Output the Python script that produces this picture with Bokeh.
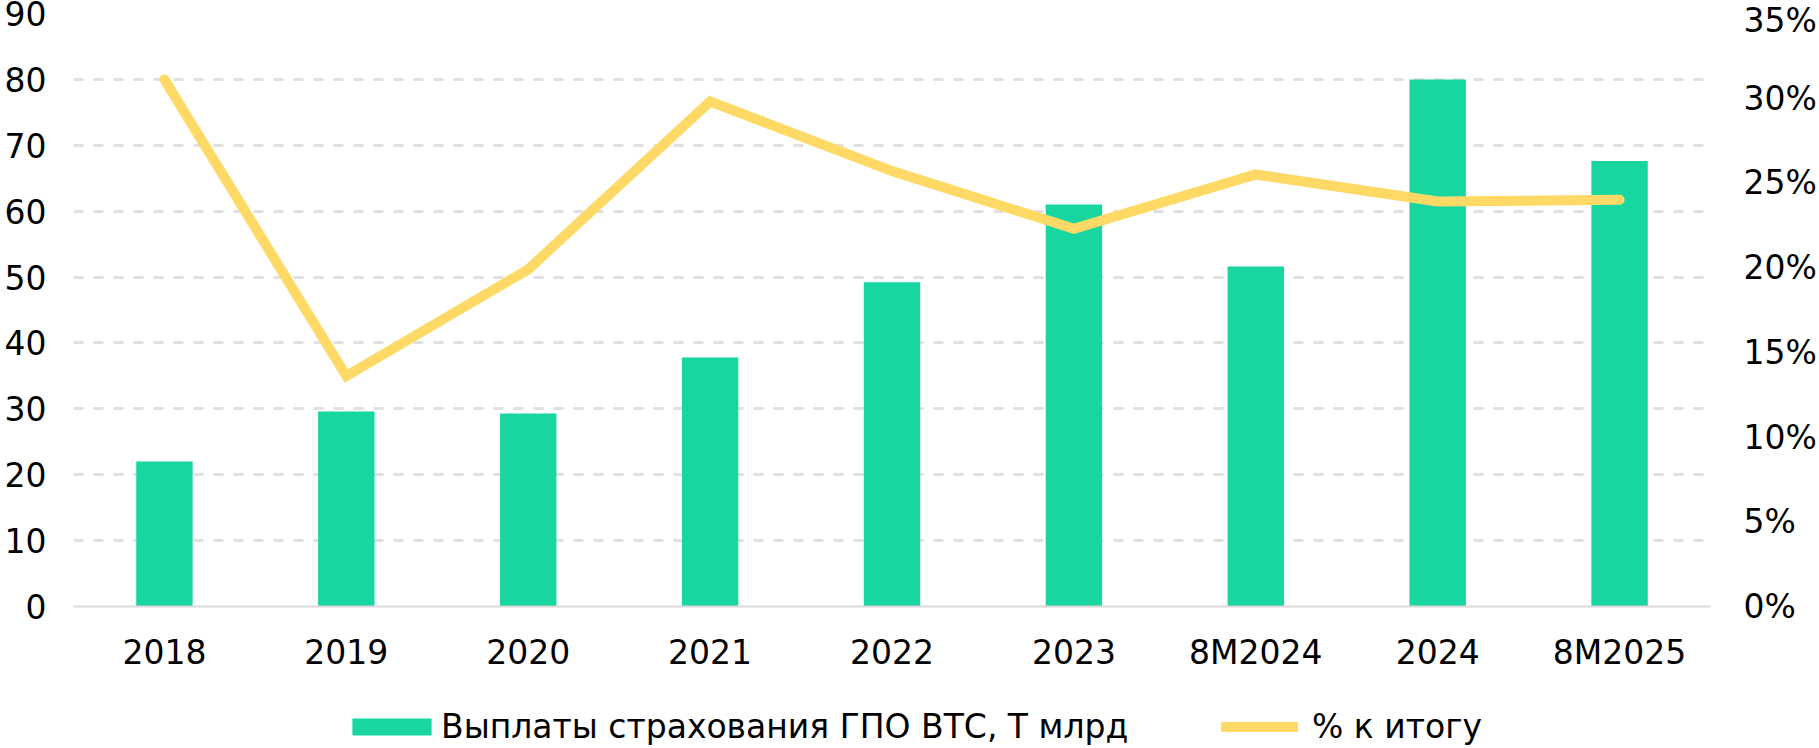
from bokeh.plotting import figure
from bokeh.layouts import column
from bokeh.models import (FactorRange, Range1d, LinearAxis, FixedTicker,
                          Legend, LegendItem, ColumnDataSource)
from bokeh.embed import file_html
from bokeh.resources import INLINE

# ---- data ----
categories = ["2018", "2019", "2020", "2021", "2022", "2023", "8M2024", "2024", "8M2025"]
payouts = [22.0, 29.6, 29.3, 37.8, 49.2, 61.0, 51.6, 80.0, 67.6]
share_pct = [31.1, 13.6, 19.9, 29.8, 25.7, 22.3, 25.5, 23.9, 24.0]
left_ticks = [0, 10, 20, 30, 40, 50, 60, 70, 80, 90]
right_ticks = [0, 5, 10, 15, 20, 25, 30, 35]
bar_label = "Выплаты страхования ГПО ВТС, Т млрд"
line_label = "% к итогу"

BAR_COLOR = "#17D6A0"
LINE_COLOR = "#FFD966"
GRID_COLOR = "#E0E0E0"
FONT = "DejaVu Sans"
FS = "33px"

W = 1819
H_MAIN = 690
H_LEG = 58

src = ColumnDataSource(dict(cat=categories, pay=payouts, pct=share_pct))

p = figure(x_range=FactorRange(factors=categories), y_range=Range1d(0, 90),
           width=W, height=H_MAIN, output_backend="svg", toolbar_location=None,
           min_border_left=73, min_border_right=109, min_border_top=13,
           min_border_bottom=84)
p.extra_y_ranges = {"pct": Range1d(0, 35)}
p.outline_line_color = None
p.background_fill_color = "white"
p.border_fill_color = "white"

bar_style = dict(fill_color=BAR_COLOR, line_color=None)
line_style = dict(line_color=LINE_COLOR, line_width=10, line_cap="round", line_join="miter")

p.vbar(x="cat", top="pay", width=0.31, source=src, **bar_style)
p.line(x="cat", y="pct", source=src, y_range_name="pct", **line_style)


def style_axis(ax, standoff):
    ax.major_tick_line_color = None
    ax.minor_tick_line_color = None
    ax.major_tick_out = 0
    ax.major_tick_in = 0
    ax.minor_tick_out = 0
    ax.minor_tick_in = 0
    ax.major_label_standoff = standoff
    ax.major_label_text_font = FONT
    ax.major_label_text_font_size = FS
    ax.major_label_text_color = "#000000"


# left axis
ya = p.yaxis[0]
ya.ticker = FixedTicker(ticks=left_ticks)
ya.axis_line_color = None
style_axis(ya, 27)

# right axis
ra = LinearAxis(y_range_name="pct", ticker=FixedTicker(ticks=right_ticks),
                major_label_overrides={t: f"{t}%" for t in right_ticks})
ra.axis_line_color = None
style_axis(ra, 33)
ra.major_label_text_baseline = "middle"
p.add_layout(ra, "right")

# x axis
xa = p.xaxis[0]
xa.axis_line_color = "#D9D9D9"
xa.axis_line_width = 2
style_axis(xa, 26)

# grid
p.xgrid.grid_line_color = None
p.ygrid.ticker = FixedTicker(ticks=left_ticks)
p.ygrid.grid_line_color = GRID_COLOR
p.ygrid.grid_line_width = 3
p.ygrid.grid_line_dash = "10 10"

# ---- legend strip (legends drawn inside their own frame) ----
# same data drawn against a y range far above it, so only the legend swatches show
lg = figure(width=W, height=H_LEG, output_backend="svg", toolbar_location=None,
            x_range=FactorRange(factors=categories), y_range=Range1d(1000, 1001),
            x_axis_location=None, y_axis_location=None,
            min_border_left=0, min_border_right=0, min_border_top=0,
            min_border_bottom=0)
lg.outline_line_color = None
lg.xgrid.visible = False
lg.ygrid.visible = False
lg.background_fill_color = "white"
lg.border_fill_color = "white"
leg_bar = lg.vbar(x="cat", top="pay", width=0.31, source=src, **bar_style)
leg_line = lg.line(x="cat", y="pct", source=src, **line_style)

common = dict(orientation="horizontal", padding=0, margin=0,
              border_line_color=None, background_fill_alpha=0,
              label_text_font=FONT, label_text_font_size=FS,
              label_text_color="#000000")
legend_bar = Legend(items=[LegendItem(label=bar_label, renderers=[leg_bar])],
                    location=(269, 2), glyph_width=99, glyph_height=21,
                    label_standoff=0, **common)
legend_line = Legend(items=[LegendItem(label=line_label, renderers=[leg_line])],
                     location=(1148, 2), glyph_width=77, glyph_height=21,
                     label_standoff=14, **common)
lg.add_layout(legend_bar, "center")
lg.add_layout(legend_line, "center")

layout = column(p, lg, spacing=0)
open("out.html", "w").write(file_html(layout, INLINE))
